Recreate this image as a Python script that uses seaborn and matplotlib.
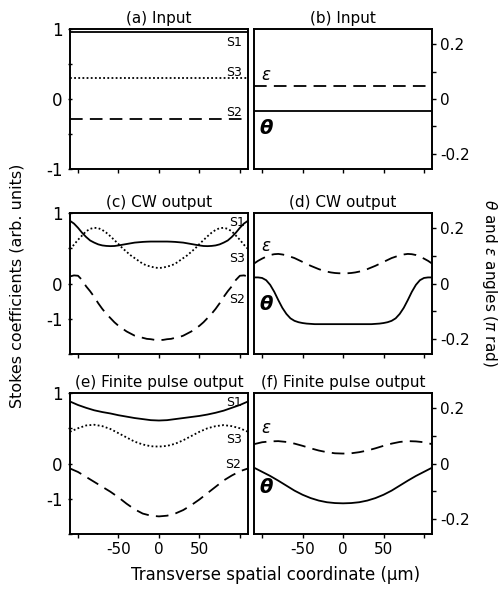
import numpy as np
import pandas as pd
import seaborn as sns
from matplotlib import pyplot as plt

# transverse coordinate (um)
x_um = list(range(-110, 111, 10))
x_fine = list(range(-110, 111, 5))

# (a) input stokes (constant)
a_s1 = [0.95] * len(x_um)
a_s2 = [-0.28] * len(x_um)
a_s3 = [0.30] * len(x_um)

# (b) input angles (pi rad)
b_eps = [0.047] * len(x_um)
b_theta = [-0.045] * len(x_um)

# (c) CW output stokes, read every 5 um
c_s1 = [0.89, 0.85, 0.79, 0.72, 0.66, 0.61, 0.58, 0.555, 0.54, 0.533, 0.53, 0.532, 0.54, 0.55, 0.56,
        0.57, 0.58, 0.585, 0.59, 0.593, 0.595, 0.595, 0.595,
        0.595, 0.595, 0.593, 0.59, 0.585, 0.58, 0.57, 0.56, 0.55, 0.54, 0.532, 0.53, 0.533, 0.54,
        0.555, 0.58, 0.61, 0.66, 0.72, 0.79, 0.85, 0.89]
c_s3 = [0.49, 0.55, 0.62, 0.68, 0.74, 0.775, 0.79, 0.785, 0.76, 0.72, 0.67, 0.615, 0.56, 0.50, 0.45,
        0.40, 0.36, 0.32, 0.28, 0.255, 0.24, 0.225, 0.22,
        0.225, 0.24, 0.255, 0.28, 0.32, 0.36, 0.40, 0.45, 0.50, 0.56, 0.615, 0.67, 0.72, 0.76,
        0.785, 0.79, 0.775, 0.74, 0.68, 0.62, 0.55, 0.49]
c_s2 = [0.10, 0.115, 0.11, 0.05, -0.04, -0.11, -0.19, -0.28, -0.36, -0.43, -0.49, -0.55, -0.60, -0.64,
        -0.68, -0.71, -0.74, -0.76, -0.77, -0.785, -0.79, -0.80, -0.80,
        -0.80, -0.79, -0.785, -0.77, -0.76, -0.74, -0.71, -0.68, -0.64, -0.60, -0.55, -0.49, -0.43,
        -0.36, -0.28, -0.19, -0.11, -0.04, 0.05, 0.11, 0.115, 0.10]

# (d) CW output angles, read every 5 um
d_eps = [0.072, 0.082, 0.090, 0.097, 0.103, 0.106, 0.107, 0.105, 0.102, 0.097, 0.092, 0.085, 0.078,
         0.071, 0.064, 0.058, 0.052, 0.047, 0.043, 0.040, 0.038, 0.037, 0.037,
         0.037, 0.038, 0.040, 0.043, 0.047, 0.052, 0.058, 0.064, 0.071, 0.078, 0.085, 0.092, 0.097,
         0.102, 0.105, 0.107, 0.106, 0.103, 0.097, 0.090, 0.082, 0.072]
d_theta = [0.022, 0.022, 0.020, 0.012, -0.005, -0.030, -0.060, -0.088, -0.110, -0.126, -0.135, -0.140,
           -0.143, -0.145, -0.146, -0.147, -0.147, -0.147, -0.147, -0.147, -0.147, -0.147, -0.147,
           -0.147, -0.147, -0.147, -0.147, -0.147, -0.147, -0.147, -0.146, -0.145, -0.143, -0.140,
           -0.135, -0.126, -0.110, -0.088, -0.060, -0.030, -0.005, 0.012, 0.020, 0.022, 0.022]

# (e) finite pulse output stokes, read every 10 um
e_s1 = [0.88, 0.83, 0.79, 0.755, 0.73, 0.71, 0.685, 0.665, 0.645, 0.63, 0.615, 0.61,
        0.615, 0.63, 0.645, 0.66, 0.675, 0.695, 0.72, 0.75, 0.79, 0.83, 0.88]
e_s3 = [0.45, 0.50, 0.54, 0.55, 0.53, 0.49, 0.43, 0.37, 0.31, 0.27, 0.245, 0.24,
        0.25, 0.28, 0.33, 0.39, 0.45, 0.50, 0.53, 0.545, 0.53, 0.50, 0.45]
e_s2 = [-0.07, -0.12, -0.19, -0.26, -0.33, -0.40, -0.48, -0.57, -0.65, -0.71, -0.74, -0.75,
        -0.74, -0.71, -0.66, -0.59, -0.51, -0.42, -0.33, -0.24, -0.17, -0.11, -0.07]

# (f) finite pulse output angles
f_eps = [0.070, 0.077, 0.080, 0.081, 0.078, 0.072, 0.064, 0.055, 0.047, 0.041, 0.037, 0.036,
         0.037, 0.041, 0.047, 0.055, 0.064, 0.072, 0.078, 0.081, 0.080, 0.077, 0.070]
f_theta = [-0.015, -0.030, -0.045, -0.062, -0.080, -0.098, -0.113, -0.125, -0.134, -0.140, -0.143, -0.144,
           -0.143, -0.140, -0.134, -0.125, -0.113, -0.098, -0.080, -0.062, -0.045, -0.030, -0.015]

titles = ["(a) Input", "(b) Input", "(c) CW output", "(d) CW output",
          "(e) Finite pulse output", "(f) Finite pulse output"]

sns.set_style("ticks")
plt.rcParams['font.family'] = ['DejaVu Sans']
plt.rcParams['mathtext.fontset'] = 'dejavusans'
plt.rcParams['text.color'] = 'black'
plt.rcParams['xtick.color'] = 'black'
plt.rcParams['ytick.color'] = 'black'

fig = plt.figure(figsize=(5.03, 5.91), dpi=100)

rows = [(0.714, 0.237), (0.401, 0.2386), (0.0964, 0.2386)]
left_x, right_x, w = 0.139, 0.505, 0.354

stokes = [(x_um, a_s1, a_s2, a_s3), (x_fine, c_s1, c_s2, c_s3), (x_um, e_s1, e_s2, e_s3)]
angles = [(x_um, b_eps, b_theta), (x_fine, d_eps, d_theta), (x_um, f_eps, f_theta)]

# label spots (data coords)
s_lab = [((93, 0.81), (93, 0.38), (93, -0.19)),
         ((97, 0.87), (96, 0.35), (97, -0.22)),
         ((93, 0.87), (93, 0.34), (91, -0.02))]
ang_lab = [((-96, 0.087), (-95, -0.107)),
           ((-96, 0.136), (-95, -0.077)),
           ((-96, 0.127), (-95, -0.087))]

dash = (0, (7, 4))
dot = (0, (1, 1.3))

for i, (b, h) in enumerate(rows):
    axl = fig.add_axes([left_x, b, w, h])
    axr = fig.add_axes([right_x, b, w, h])
    xs, s1, s2, s3 = stokes[i]
    df = pd.DataFrame({'x': xs, 's1': s1, 's2': s2, 's3': s3})
    sns.lineplot(data=df, x='x', y='s1', ax=axl, color='black', lw=1.3)
    sns.lineplot(data=df, x='x', y='s3', ax=axl, color='black', lw=1.3, linestyle=dot)
    sns.lineplot(data=df, x='x', y='s2', ax=axl, color='black', lw=1.3, linestyle=dash)

    xa, eps, th = angles[i]
    dfa = pd.DataFrame({'x': xa, 'eps': eps, 'theta': th})
    sns.lineplot(data=dfa, x='x', y='eps', ax=axr, color='black', lw=1.3, linestyle=dash)
    sns.lineplot(data=dfa, x='x', y='theta', ax=axr, color='black', lw=1.3)

    for ax in (axl, axr):
        ax.set_xlim(-110, 110)
        ax.set_xlabel('')
        ax.set_ylabel('')
        ax.set_xticks([-100, -50, 0, 50, 100])
        if i == 2:
            ax.set_xticklabels(['', '-50', '0', '50', ''])
        else:
            ax.set_xticklabels([])
        for sp in ax.spines.values():
            sp.set_visible(True)
            sp.set_linewidth(1.4)
            sp.set_color('black')
        ax.tick_params(axis='x', direction='out', length=3, width=1, labelsize=11, pad=3)

    axl.set_ylim(-1, 1)
    axl.set_yticks([-1, -0.5, 0, 0.5, 1])
    if i == 0:
        axl.set_yticklabels(['-1', '', '0', '', '1'])
    else:
        axl.set_yticklabels(['', '-1', '0', '', '1'])
    axl.tick_params(axis='y', direction='inout', length=3, width=1, labelsize=12, pad=4)

    axr.set_ylim(-0.255, 0.255)
    axr.yaxis.tick_right()
    axr.set_yticks([-0.2, -0.1, 0, 0.1, 0.2])
    axr.set_yticklabels(['-0.2', '', '0', '', '0.2'])
    axr.tick_params(axis='y', direction='out', length=3, width=1, labelsize=11, pad=3)

    axl.set_title(titles[2 * i], fontsize=11, pad=4)
    axr.set_title(titles[2 * i + 1], fontsize=11, pad=4)

    for name, (tx, ty) in zip(['S1', 'S3', 'S2'], s_lab[i]):
        axl.text(tx, ty, name, fontsize=9, ha='center', va='center')
    (ex, ey), (thx, thy) = ang_lab[i]
    axr.text(ex, ey, '\u03b5', fontsize=12, ha='center', va='center', fontstyle='italic')
    axr.text(thx, thy, '\u03b8', fontsize=14, ha='center', va='center',
             fontweight='bold', fontstyle='italic')

fig.text(0.034, 0.516, 'Stokes coefficients (arb. units)', rotation=90,
         ha='center', va='center', fontsize=11.5)
fig.text(0.974, 0.521, r'$\theta$ and $\varepsilon$ angles ($\pi$ rad)', rotation=270,
         ha='center', va='center', fontsize=11)
fig.text(0.548, 0.027, 'Transverse spatial coordinate (\u00b5m)',
         ha='center', va='center', fontsize=12)

fig.savefig('out.png', dpi=100)
